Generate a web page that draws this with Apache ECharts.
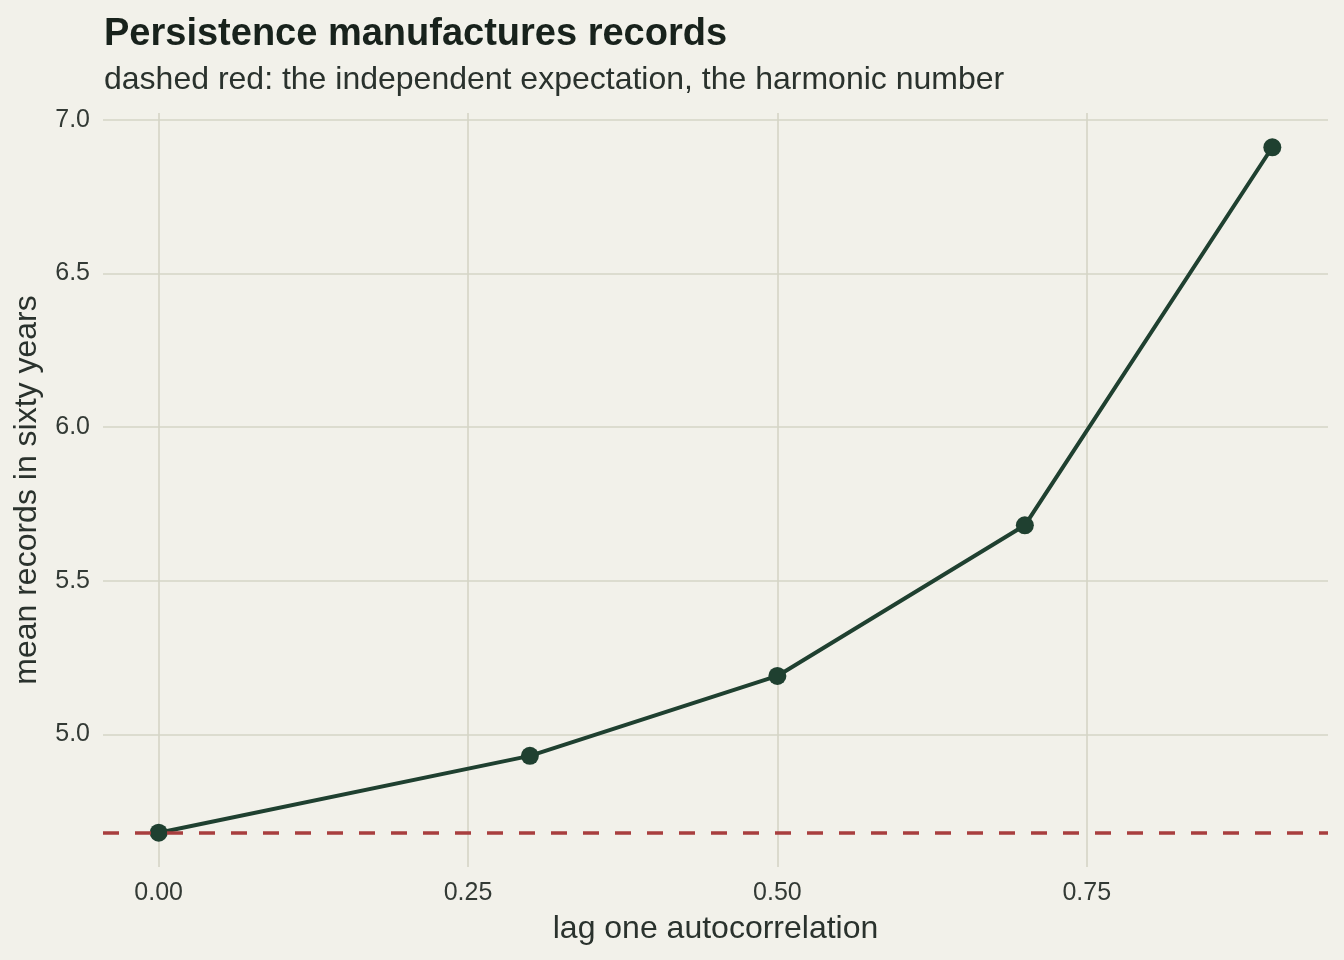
<!DOCTYPE html>
<html>
<head>
<meta charset="utf-8">
<script src="https://cdn.jsdelivr.net/npm/echarts@6/dist/echarts.min.js"></script>
<style>
html,body{margin:0;padding:0;background:#f2f1ea;}
#chart{width:1344px;height:960px;}
</style>
</head>
<body>
<div id="chart"></div>
<script>
const lags = [0, 0.3, 0.5, 0.7, 0.9];
const meanRecords = [4.68, 4.93, 5.19, 5.68, 6.91];
const harmonicNumber = 4.6799;
const xTicks = [0, 0.25, 0.5, 0.75];
const yTicks = [5.0, 5.5, 6.0, 6.5, 7.0];
const titleText = 'Persistence manufactures records';
const subtitleText = 'dashed red: the independent expectation, the harmonic number';
const xName = 'lag one autocorrelation';
const yName = 'mean records in sixty years';

const FONT = '"Liberation Sans", Arial, sans-serif';
const xMin = -0.045, xMax = 0.945;
const yLo = Math.min(harmonicNumber, ...meanRecords), yHi = Math.max(...meanRecords);
const yPad = (yHi - yLo) * 0.05;

const chart = echarts.init(document.getElementById('chart'), null, {renderer: 'canvas'});
chart.setOption({
  backgroundColor: '#f2f1ea',
  animation: false,
  title: {
    text: titleText,
    subtext: subtitleText,
    left: 99,
    top: 11,
    itemGap: 10,
    textStyle: {fontFamily: FONT, fontSize: 38, fontWeight: 'bold', color: '#18221c'},
    subtextStyle: {fontFamily: FONT, fontSize: 32, color: '#2a322d'}
  },
  grid: {left: 103, right: 16, top: 113, bottom: 93, containLabel: false},
  xAxis: {
    type: 'value',
    min: xMin,
    max: xMax,
    name: xName,
    nameLocation: 'middle',
    nameGap: 46,
    nameTextStyle: {fontFamily: FONT, fontSize: 32, color: '#2a322d'},
    axisLine: {show: false},
    axisTick: {show: false, customValues: xTicks},
    axisLabel: {
      customValues: xTicks,
      fontFamily: FONT, fontSize: 25, color: '#333a35', margin: 14,
      formatter: v => v.toFixed(2)
    },
    splitLine: {show: true, lineStyle: {color: '#d5d5c6', width: 1.6}}
  },
  yAxis: {
    type: 'value',
    min: yLo - yPad,
    max: yHi + yPad,
    name: yName,
    nameLocation: 'middle',
    nameGap: 60,
    nameTextStyle: {fontFamily: FONT, fontSize: 32, color: '#2a322d'},
    axisLine: {show: false},
    axisTick: {show: false, customValues: yTicks},
    axisLabel: {
      customValues: yTicks,
      fontFamily: FONT, fontSize: 25, color: '#333a35', margin: 13,
      formatter: v => v.toFixed(1)
    },
    splitLine: {show: true, lineStyle: {color: '#d5d5c6', width: 1.6}}
  },
  series: [
    {
      type: 'line',
      data: [],
      z: 1,
      markLine: {
        silent: true,
        symbol: ['none', 'none'],
        label: {show: false},
        lineStyle: {color: '#a83e3e', width: 3.6, type: [16, 16]},
        data: [{yAxis: harmonicNumber}]
      }
    },
    {
      type: 'line',
      z: 3,
      data: lags.map((x, i) => [x, meanRecords[i]]),
      symbol: 'circle',
      symbolSize: 18,
      lineStyle: {color: '#1f4030', width: 4},
      itemStyle: {color: '#1f4030'}
    }
  ]
});
</script>
</body>
</html>
